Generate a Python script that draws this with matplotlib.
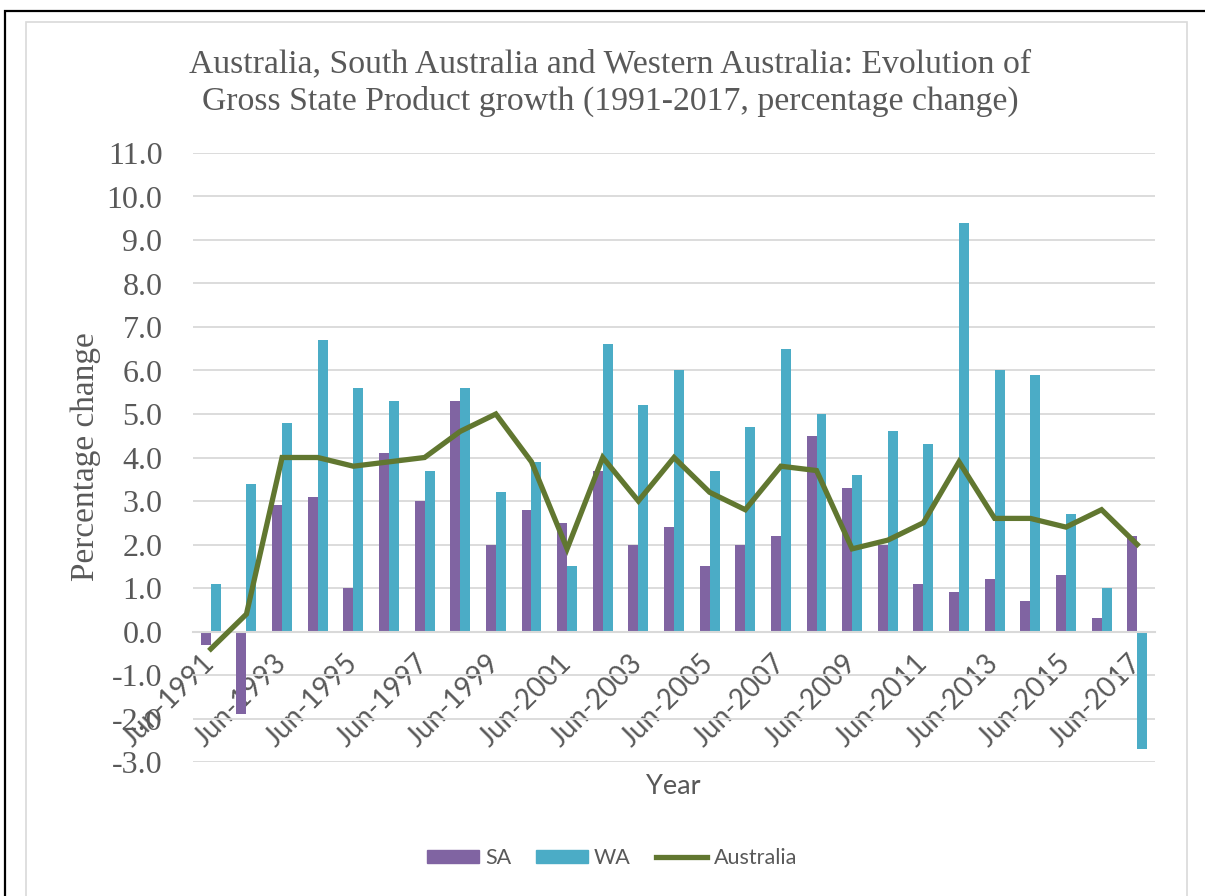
import numpy as np
import matplotlib
matplotlib.use("Agg")
import matplotlib.pyplot as plt
from matplotlib.patches import Rectangle
from matplotlib.lines import Line2D

# Gross State Product growth, % change, year to June
years = list(range(1991, 2018))
sa = [-0.3, -1.9, 2.9, 3.1, 1.0, 4.1, 3.0, 5.3, 2.0, 2.8, 2.5, 3.7, 2.0, 2.4,
      1.5, 2.0, 2.2, 4.5, 3.3, 2.0, 1.1, 0.9, 1.2, 0.7, 1.3, 0.3, 2.2]
wa = [1.1, 3.4, 4.8, 6.7, 5.6, 5.3, 3.7, 5.6, 3.2, 3.9, 1.5, 6.6, 5.2, 6.0,
      3.7, 4.7, 6.5, 5.0, 3.6, 4.6, 4.3, 9.4, 6.0, 5.9, 2.7, 1.0, -2.7]
aus = [-0.4, 0.4, 4.0, 4.0, 3.8, 3.9, 4.0, 4.6, 5.0, 3.9, 1.9, 4.0, 3.0, 4.0,
       3.2, 2.8, 3.8, 3.7, 1.9, 2.1, 2.5, 3.9, 2.6, 2.6, 2.4, 2.8, 2.0]
tick_labels = ["Jun-%d" % y for y in years]

c_sa = "#8064A2"
c_wa = "#4BACC6"
c_aus = "#617730"
c_txt = "#595959"
c_grid = "#D9D9D9"
serif = "Liberation Serif"
sans = "Lato"

W, H = 1205, 896
fig = plt.figure(figsize=(W / 100, H / 100), dpi=100)

# chart frame
fig.patches.append(Rectangle((5 / W, -0.1), 1.2, 1 - 11 / H + 0.1, transform=fig.transFigure,
                             fill=False, edgecolor="black", linewidth=1.6))
fig.patches.append(Rectangle((26 / W, -0.1), (1187 - 26) / W, 1 - 22 / H + 0.1,
                             transform=fig.transFigure, fill=False,
                             edgecolor=c_grid, linewidth=1.2))

ax = fig.add_axes([193 / W, 1 - 762 / H, (1155 - 193) / W, (762 - 153) / H])
x = np.arange(len(years))
bw = 0.28
ax.bar(x - bw / 2, sa, width=bw, color=c_sa, label="SA", zorder=2)
ax.bar(x + bw / 2, wa, width=bw, color=c_wa, label="WA", zorder=2)
ax.plot(x, aus, color=c_aus, linewidth=3.8, label="Australia", zorder=3,
        solid_joinstyle="miter")

ax.set_xlim(-0.5, len(years) - 0.5)
ax.set_ylim(-3, 11)
ax.set_yticks(np.arange(-3, 12, 1))
ax.set_yticklabels(["%.1f" % v for v in np.arange(-3, 12, 1)],
                   fontfamily=serif, fontsize=23, color=c_txt)
ax.grid(axis="y", color=c_grid, linewidth=1.3, zorder=0)
ax.set_axisbelow(True)
for s in ["top", "right", "left"]:
    ax.spines[s].set_visible(False)
ax.spines["bottom"].set_position(("data", 0))
ax.spines["bottom"].set_color(c_grid)
ax.spines["bottom"].set_linewidth(1.5)
ax.tick_params(axis="y", length=0, pad=22)
ax.tick_params(axis="x", length=0, pad=20)

ax.set_xticks(x[::2])
ax.set_xticklabels(tick_labels[::2], rotation=45, ha="right", va="center",
                   rotation_mode="anchor", fontfamily=sans, fontsize=20,
                   color=c_txt)

fig.text(610 / W, 1 - 83 / H,
         "Australia, South Australia and Western Australia: Evolution of\n"
         "Gross State Product growth (1991-2017, percentage change)",
         ha="center", va="center", fontfamily=serif, fontsize=24.3,
         color=c_txt, linespacing=1.3)
fig.text(86 / W, 1 - 457 / H, "Percentage change", rotation=90, ha="center",
         va="center", fontfamily=serif, fontsize=24, color=c_txt)
fig.text(673 / W, 1 - 786 / H, "Year", ha="center", va="center",
         fontfamily=sans, fontsize=19.5, color=c_txt)

handles = [Rectangle((0, 0), 1, 1, color=c_sa), Rectangle((0, 0), 1, 1, color=c_wa),
           Line2D([0], [0], color=c_aus, linewidth=3.8)]
fig.legend(handles, ["SA", "WA", "Australia"], loc="center",
           bbox_to_anchor=(612 / W, 1 - 858 / H), ncol=3, frameon=False,
           prop={"family": sans, "size": 15.5}, labelcolor=c_txt,
           handlelength=2.4, handleheight=0.6, handletextpad=0.3,
           columnspacing=1.15)

fig.savefig("out.png", dpi=100)
